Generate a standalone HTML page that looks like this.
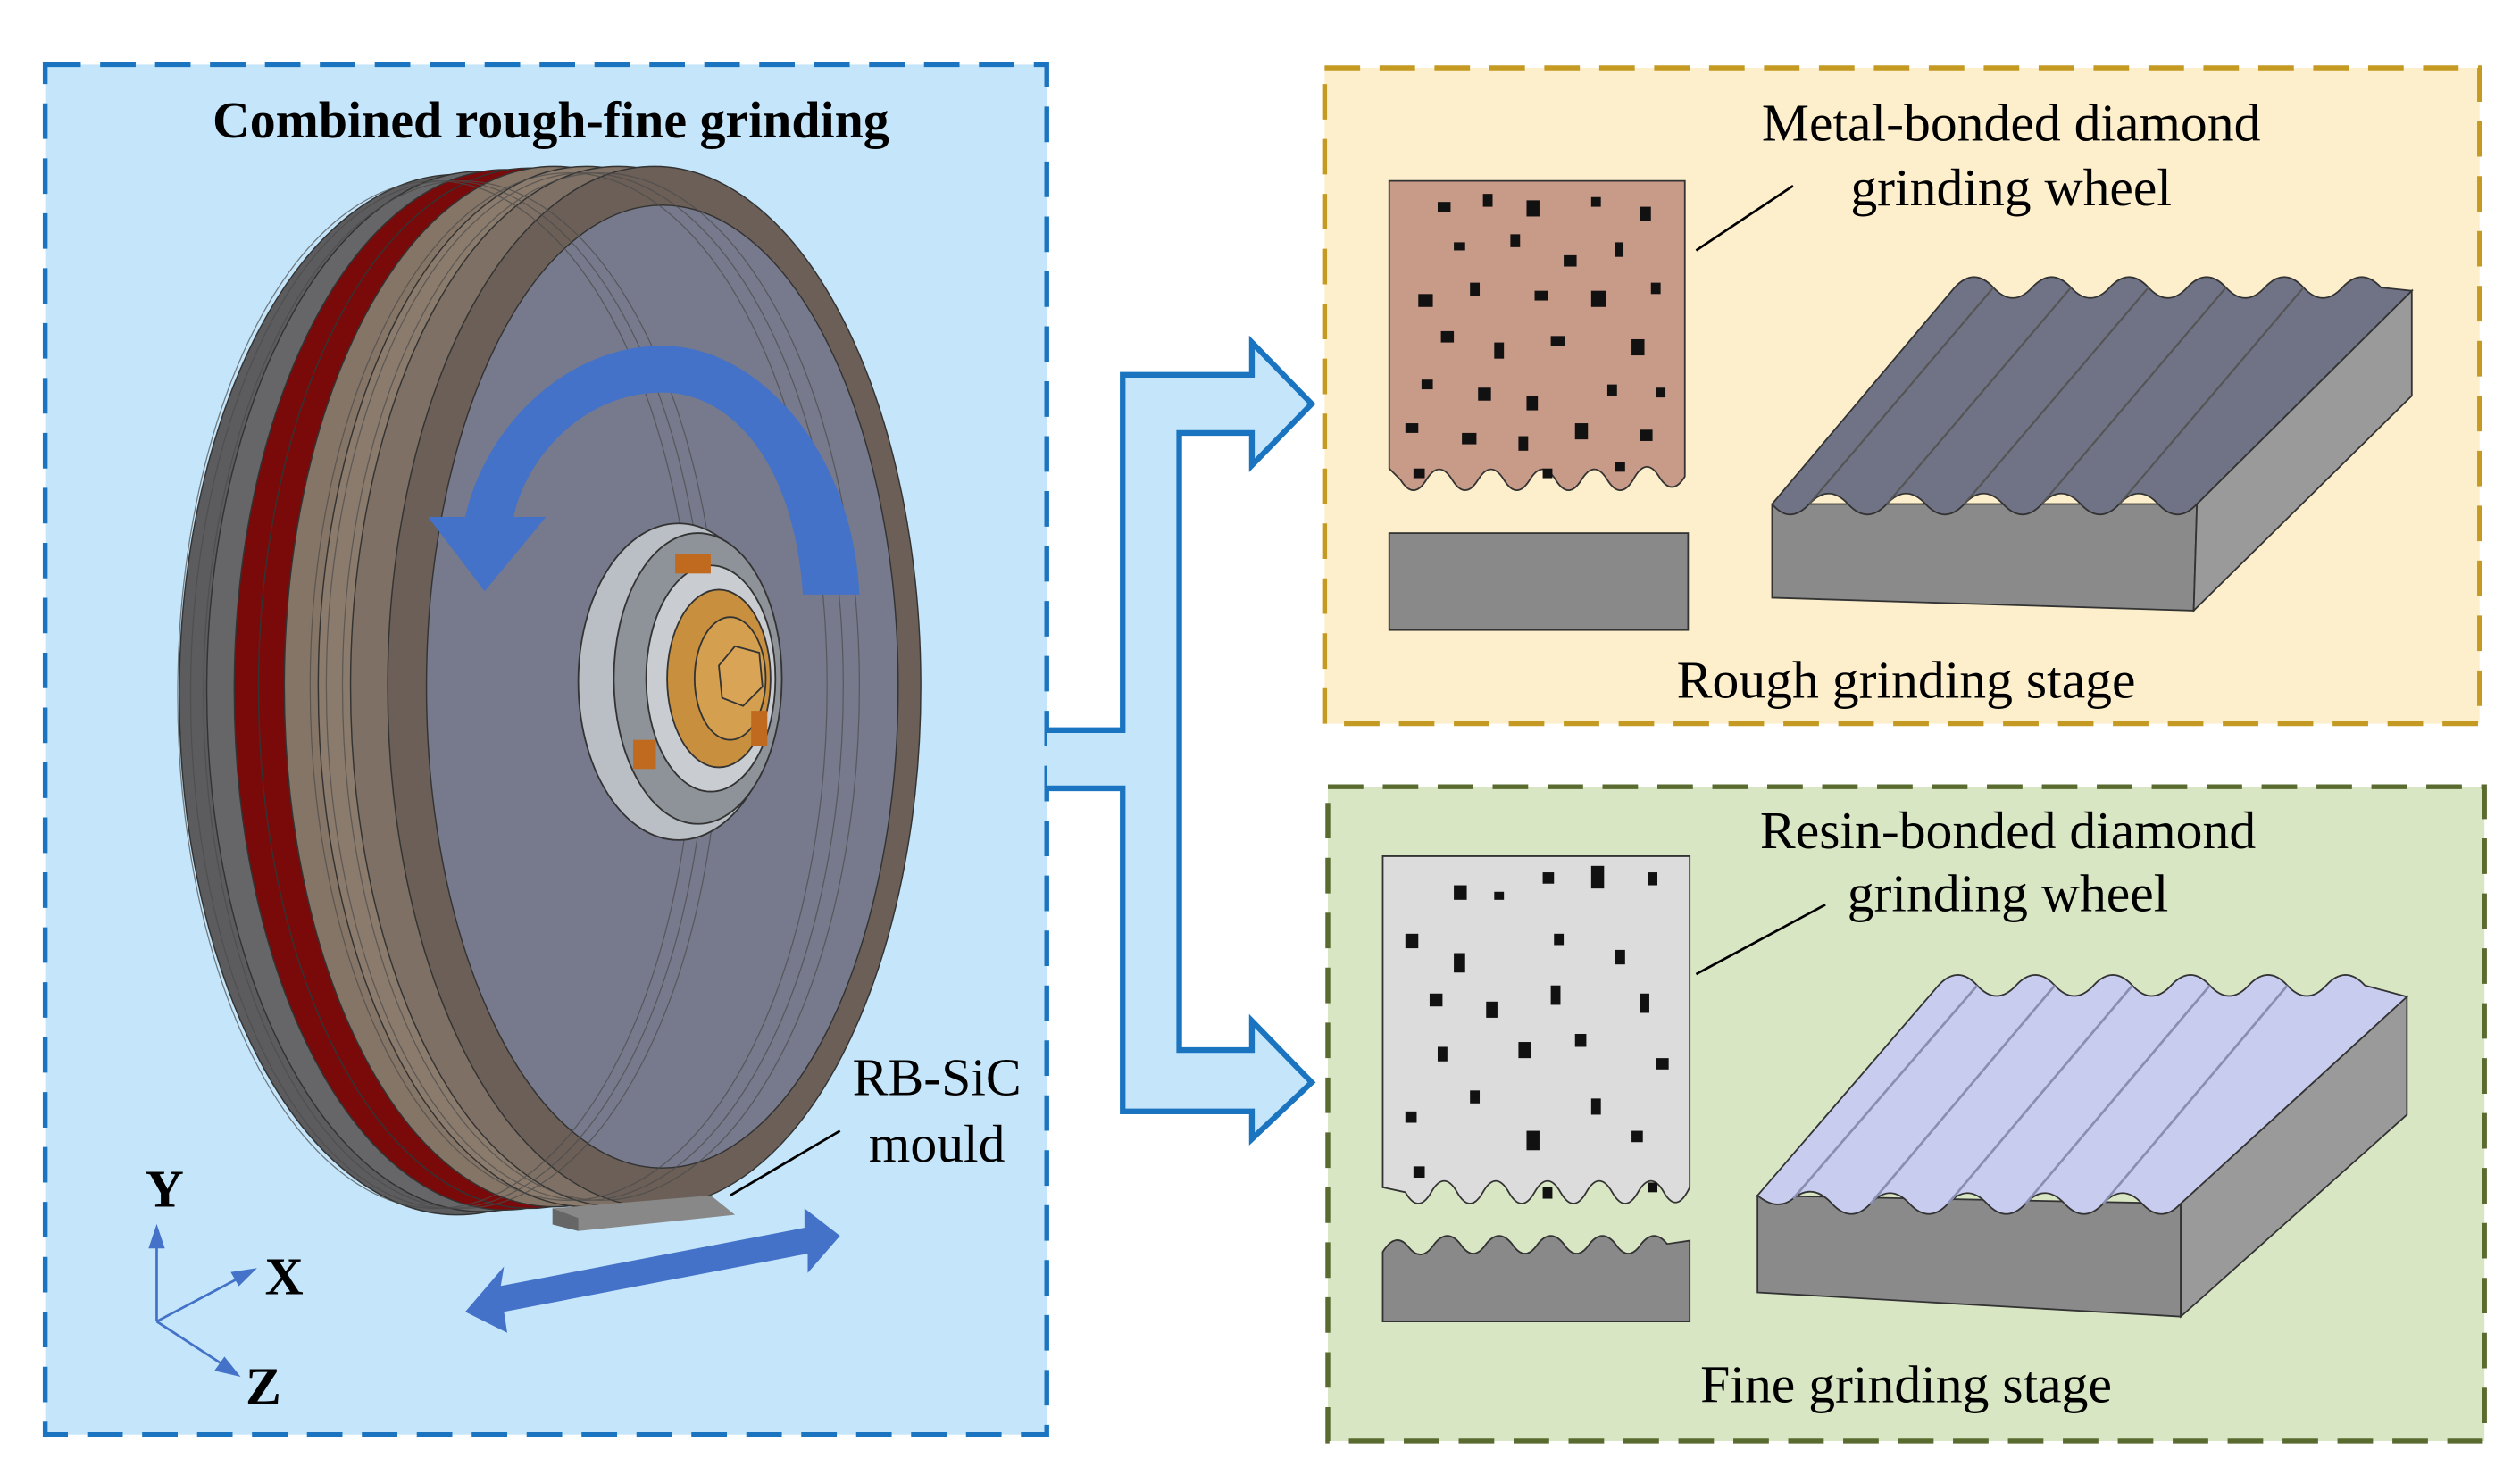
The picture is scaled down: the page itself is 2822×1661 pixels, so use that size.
<!DOCTYPE html>
<html><head><meta charset="utf-8"><style>html,body{margin:0;padding:0;background:#fff}svg{display:block}</style></head>
<body>
<svg width="2822" height="1661" viewBox="0 0 1560 918" preserveAspectRatio="none" xmlns="http://www.w3.org/2000/svg" font-family="'Liberation Serif',serif">
<!-- panels -->
<rect x="28" y="40" width="620" height="848" fill="#c5e6fa" stroke="#1a74c0" stroke-width="3" stroke-dasharray="22,12"/>
<rect x="820" y="42" width="715" height="406" fill="#fdefcc" stroke="#c49a22" stroke-width="3" stroke-dasharray="22,12"/>
<rect x="822" y="487" width="716" height="405" fill="#d9e6c4" stroke="#5a6b30" stroke-width="3" stroke-dasharray="22,12"/>
<text x="341" y="85" text-anchor="middle" font-size="32" font-weight="bold">Combined rough-fine grinding</text>

<!-- wheel -->
<g stroke="#333" stroke-width="0.8">
<ellipse cx="283" cy="430" rx="172" ry="322" fill="#5c5c5e"/>
<ellipse cx="298" cy="428" rx="170" ry="322" fill="#666668"/>
<ellipse cx="313" cy="427" rx="168" ry="322" fill="#7a0a0a"/>
<ellipse cx="328" cy="426" rx="168" ry="322" fill="#7a0a0a"/>
<ellipse cx="343" cy="425" rx="167" ry="322" fill="#857566"/>
<ellipse cx="363" cy="425" rx="166" ry="322" fill="#8a7b6d"/>
<ellipse cx="383" cy="425" rx="166" ry="322" fill="#7e7064"/>
<ellipse cx="405" cy="425" rx="165" ry="322" fill="#6b5f58"/>
<ellipse cx="410" cy="425" rx="146" ry="298" fill="#777a8c"/>
</g>
<g fill="none" stroke="#4a4a4a" stroke-width="0.7" opacity="0.7">
<ellipse cx="270" cy="430" rx="160" ry="318"/><ellipse cx="278" cy="430" rx="160" ry="318"/><ellipse cx="286" cy="430" rx="160" ry="318"/><ellipse cx="352" cy="425" rx="160" ry="318"/><ellipse cx="362" cy="425" rx="160" ry="318"/><ellipse cx="372" cy="425" rx="160" ry="318"/>
</g>
<!-- hub -->
<ellipse cx="420" cy="422" rx="62" ry="98" fill="#b9bfc4" stroke="#333"/>
<ellipse cx="432" cy="420" rx="52" ry="90" fill="#8e9399" stroke="#333"/>
<ellipse cx="440" cy="420" rx="40" ry="70" fill="#c9cdd1" stroke="#333"/>
<ellipse cx="445" cy="420" rx="32" ry="55" fill="#c8903e" stroke="#333"/>
<ellipse cx="452" cy="420" rx="22" ry="38" fill="#d4a050" stroke="#333"/>
<polygon points="445,412 455,400 470,404 472,425 460,437 447,432" fill="#d9a456" stroke="#333"/>
<rect x="418" y="343" width="22" height="12" fill="#c06a20"/><rect x="392" y="458" width="14" height="18" fill="#c06a20"/><rect x="465" y="440" width="10" height="22" fill="#c06a20"/>
<!-- rotation arrow -->
<path d="M410,214 C470,214 528,280 532,368 L497,368 C492,290 455,243 410,243 C360,243 325,285 318,320 L338,320 L300,366 L265,320 L288,320 C300,265 350,214 410,214 Z" fill="#4472c8"/>
<!-- mould -->
<polygon points="342,748 440,740 455,752 358,762" fill="#888"/><polygon points="342,748 342,758 358,762 358,754" fill="#666"/>
<line x1="452" y1="740" x2="520" y2="700" stroke="#000" stroke-width="1.5"/>
<text x="580" y="678" text-anchor="middle" font-size="33">RB-SiC</text>
<text x="580" y="719" text-anchor="middle" font-size="33">mould</text>
<!-- double arrow -->
<polygon points="288,812 312,784 310,796 498,760 498,748 520,765 500,788 500,776 312,812 314,825" fill="#4472c8"/>
<!-- axes -->
<g stroke="#4472c8" stroke-width="1.5" fill="#4472c8">
<line x1="97" y1="818" x2="97" y2="768"/><polygon points="97,760 93,772 101,772"/>
<line x1="97" y1="818" x2="150" y2="790"/><polygon points="157,786 144,788 148,795"/>
<line x1="97" y1="818" x2="140" y2="846"/><polygon points="147,851 134,848 139,841"/>
</g>
<g font-weight="bold" font-size="33"><text x="90" y="747">Y</text><text x="164" y="801">X</text><text x="152" y="869">Z</text></g>

<!-- connector arrows -->
<path d="M648,452 L695,452 L695,232 L775,232 L775,212 L812,250 L775,288 L775,268 L730,268 L730,650 L775,650 L775,632 L812,670 L775,705 L775,688 L695,688 L695,488 L648,488" fill="#c5e6fa" stroke="#1a74c0" stroke-width="3.5" stroke-linejoin="miter"/>

<!-- top-right -->
<text x="1245" y="87" text-anchor="middle" font-size="33">Metal-bonded diamond</text>
<text x="1245" y="127" text-anchor="middle" font-size="33">grinding wheel</text>
<line x1="1050" y1="155" x2="1110" y2="115" stroke="#000" stroke-width="1.5"/>
<path d="M860,112 L1043,112 L1043,295 Q1035,308 1027,295 Q1019,282 1011,297 Q1003,310 995,297 Q987,284 979,297 Q971,310 963,297 Q955,284 947,297 Q939,310 931,297 Q923,284 915,297 Q907,310 899,297 Q891,284 883,297 Q875,310 867,297 L860,290 Z" fill="#c89a88" stroke="#333"/>
<g fill="#111">
<rect x="890" y="125" width="8" height="6"/><rect x="918" y="120" width="6" height="8"/><rect x="945" y="124" width="8" height="10"/><rect x="985" y="122" width="6" height="6"/><rect x="1015" y="128" width="7" height="9"/><rect x="900" y="150" width="7" height="5"/><rect x="935" y="145" width="6" height="8"/><rect x="968" y="158" width="8" height="7"/><rect x="1000" y="150" width="5" height="9"/><rect x="878" y="182" width="9" height="8"/><rect x="910" y="175" width="6" height="8"/><rect x="950" y="180" width="8" height="6"/><rect x="985" y="180" width="9" height="10"/><rect x="1022" y="175" width="6" height="7"/><rect x="892" y="205" width="8" height="7"/><rect x="925" y="212" width="6" height="10"/><rect x="960" y="208" width="9" height="6"/><rect x="1010" y="210" width="8" height="10"/><rect x="880" y="235" width="7" height="6"/><rect x="915" y="240" width="8" height="8"/><rect x="945" y="245" width="7" height="9"/><rect x="995" y="238" width="6" height="7"/><rect x="1025" y="240" width="6" height="6"/><rect x="870" y="262" width="8" height="6"/><rect x="905" y="268" width="9" height="7"/><rect x="940" y="270" width="6" height="9"/><rect x="975" y="262" width="8" height="10"/><rect x="1015" y="266" width="8" height="7"/><rect x="875" y="290" width="7" height="6"/><rect x="955" y="290" width="6" height="6"/><rect x="1000" y="286" width="6" height="6"/>
</g>
<rect x="860" y="330" width="185" height="60" fill="#898989" stroke="#333"/>
<!-- rough block -->
<polygon points="1097,312 1360,312 1358,378 1097,370" fill="#8a8a8a" stroke="#333"/>
<polygon points="1360,312 1493,180 1493,245 1358,378" fill="#9a9a9a" stroke="#333"/>
<path d="M1097,312 L1210,178 Q1222,165 1234,178 Q1246,191 1258,178 Q1270,165 1282,178 Q1294,191 1306,178 Q1318,165 1330,178 Q1342,191 1354,178 Q1366,165 1378,178 Q1390,191 1402,178 Q1414,165 1426,178 Q1438,191 1450,178 Q1462,165 1474,178 L1493,180 L1360,312 Q1348,325 1336,312 Q1324,299 1312,312 Q1300,325 1288,312 Q1276,299 1264,312 Q1252,325 1240,312 Q1228,299 1216,312 Q1204,325 1192,312 Q1180,299 1168,312 Q1156,325 1144,312 Q1132,299 1120,312 Q1108,325 1097,312 Z" fill="#6f7385" stroke="#333"/>
<g stroke="#555" stroke-width="1.2"><line x1="1120" y1="312" x2="1234" y2="178"/><line x1="1168" y1="312" x2="1282" y2="178"/><line x1="1216" y1="312" x2="1330" y2="178"/><line x1="1264" y1="312" x2="1378" y2="178"/><line x1="1312" y1="312" x2="1426" y2="178"/></g>
<text x="1180" y="432" text-anchor="middle" font-size="33">Rough grinding stage</text>

<!-- bottom-right -->
<text x="1243" y="525" text-anchor="middle" font-size="33">Resin-bonded diamond</text>
<text x="1243" y="564" text-anchor="middle" font-size="33">grinding wheel</text>
<line x1="1050" y1="603" x2="1130" y2="560" stroke="#000" stroke-width="1.5"/>
<path d="M856,530 L1046,530 L1046,735 Q1038,752 1030,738 Q1022,724 1014,738 Q1006,752 998,738 Q990,724 982,738 Q974,752 966,738 Q958,724 950,738 Q942,752 934,738 Q926,724 918,738 Q910,752 902,738 Q894,724 886,738 Q878,752 870,738 L856,735 Z" fill="#dcdcdc" stroke="#333"/>
<g fill="#111">
<rect x="900" y="548" width="8" height="9"/><rect x="925" y="552" width="6" height="5"/><rect x="955" y="540" width="7" height="7"/><rect x="985" y="536" width="8" height="14"/><rect x="1020" y="540" width="6" height="8"/><rect x="870" y="578" width="8" height="9"/><rect x="900" y="590" width="7" height="12"/><rect x="962" y="578" width="6" height="7"/><rect x="1000" y="588" width="6" height="9"/><rect x="885" y="615" width="8" height="8"/><rect x="920" y="620" width="7" height="10"/><rect x="960" y="610" width="6" height="12"/><rect x="1015" y="615" width="6" height="12"/><rect x="890" y="648" width="6" height="9"/><rect x="940" y="645" width="8" height="10"/><rect x="975" y="640" width="7" height="8"/><rect x="1025" y="655" width="8" height="7"/><rect x="870" y="688" width="7" height="7"/><rect x="910" y="675" width="6" height="8"/><rect x="945" y="700" width="8" height="12"/><rect x="985" y="680" width="6" height="10"/><rect x="1010" y="700" width="7" height="7"/><rect x="875" y="722" width="7" height="7"/><rect x="955" y="735" width="6" height="7"/><rect x="1020" y="732" width="6" height="6"/>
</g>
<path d="M856,775 Q864,762 872,772 Q880,782 888,770 Q896,760 904,770 Q912,782 920,770 Q928,760 936,770 Q944,782 952,770 Q960,760 968,770 Q976,782 984,770 Q992,760 1000,770 Q1008,782 1016,770 Q1024,760 1032,770 L1046,768 L1046,818 L856,818 Z" fill="#898989" stroke="#333"/>
<!-- fine block -->
<polygon points="1088,740 1350,745 1350,815 1088,800" fill="#8a8a8a" stroke="#333"/>
<polygon points="1350,745 1490,617 1490,690 1350,815" fill="#9a9a9a" stroke="#333"/>
<path d="M1088,740 L1200,610 Q1212,597 1224,610 Q1236,623 1248,610 Q1260,597 1272,610 Q1284,623 1296,610 Q1308,597 1320,610 Q1332,623 1344,610 Q1356,597 1368,610 Q1380,623 1392,610 Q1404,597 1416,610 Q1428,623 1440,610 Q1452,597 1464,610 L1490,617 L1350,745 Q1338,758 1326,745 Q1314,732 1302,745 Q1290,758 1278,745 Q1266,732 1254,745 Q1242,758 1230,745 Q1218,732 1206,745 Q1194,758 1182,745 Q1170,732 1158,745 Q1146,758 1134,745 Q1122,732 1110,742 Q1100,750 1088,740 Z" fill="#c8cdf0" stroke="#333"/>
<g stroke="#8a8fb0" stroke-width="1.5"><line x1="1110" y1="742" x2="1224" y2="610"/><line x1="1158" y1="745" x2="1272" y2="610"/><line x1="1206" y1="745" x2="1320" y2="610"/><line x1="1254" y1="745" x2="1368" y2="610"/><line x1="1302" y1="745" x2="1416" y2="610"/></g>
<text x="1180" y="868" text-anchor="middle" font-size="33">Fine grinding stage</text>
</svg>
</body></html>
